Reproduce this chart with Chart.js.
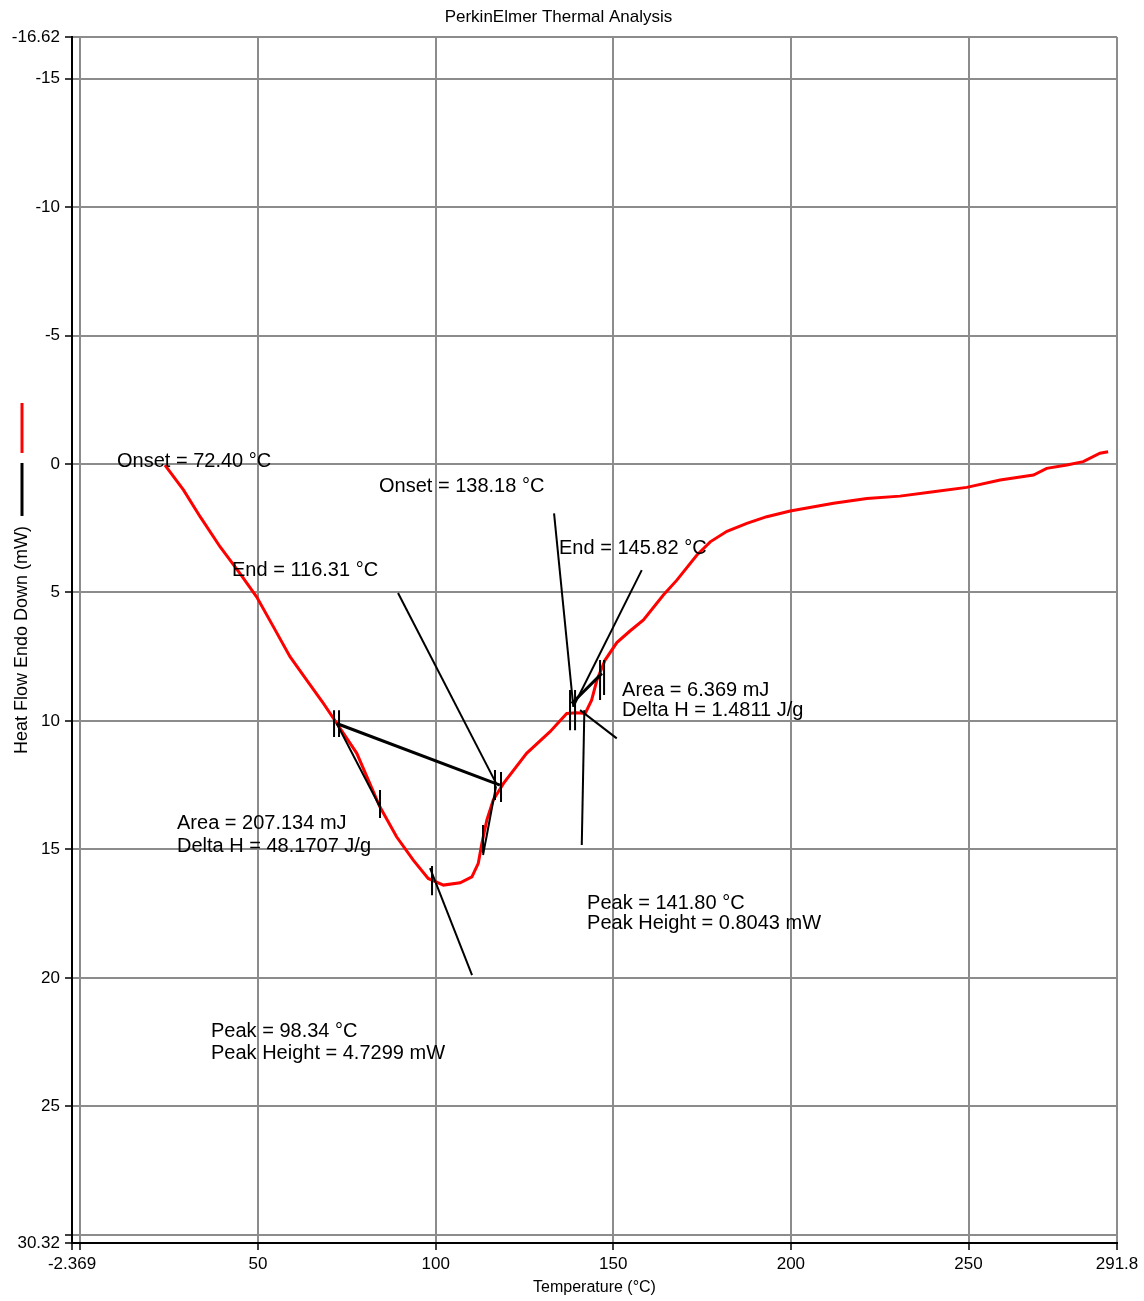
<!DOCTYPE html>
<html>
<head>
<meta charset="utf-8">
<title>PerkinElmer Thermal Analysis</title>
<script src="https://cdn.jsdelivr.net/npm/chart.js@4.4.1/dist/chart.umd.min.js"></script>
<style>
  html, body { margin: 0; padding: 0; background: #fff; }
  #wrap { width: 1144px; height: 1301px; }
</style>
</head>
<body>
<div id="wrap"><canvas id="dsc"></canvas></div>
<script>
// DSC trace (temperature in °C, heat flow in mW, endo down)
const temps = [23.8, 29.0, 33.7, 39.3, 44.9, 49.6, 54.3, 59.0, 63.7, 68.4,
  72.2, 77.8, 84.3, 89.0, 93.7, 97.9, 102.2, 106.9, 110.2, 112.0,
  113.0, 114.4, 116.2, 119.1, 125.6, 132.2, 136.9, 139.7, 142.1, 143.9,
  145.4, 147.7, 151.0, 154.7, 158.5, 164.1, 167.9, 173.5, 177.3, 182.0,
  187.6, 193.2, 199.8, 212.0, 221.4, 230.7, 240.1, 249.5, 258.9, 268.3,
  272.0, 277.7, 282.3, 287.0, 289.3];
const heatFlow = [0.04, 1.01, 2.05, 3.22, 4.26, 5.17, 6.33, 7.50, 8.41, 9.32,
  10.10, 11.26, 13.34, 14.51, 15.42, 16.13, 16.39, 16.30, 16.07, 15.54,
  14.77, 13.86, 13.08, 12.43, 11.26, 10.42, 9.71, 9.68, 9.71, 9.19,
  8.41, 7.63, 6.95, 6.50, 6.07, 5.10, 4.52, 3.55, 3.03, 2.62,
  2.31, 2.05, 1.83, 1.53, 1.34, 1.25, 1.08, 0.91, 0.62, 0.43,
  0.17, 0.04, -0.09, -0.42, -0.48];

// axis ticks (grid at x = 0 and y = 30 carries no label)
const xTicks = [-2.369, 0, 50, 100, 150, 200, 250, 291.8];
const yTicks = [-16.62, -15, -10, -5, 0, 5, 10, 15, 20, 25, 30, 30.32];
const xUnlabelled = [0];
const yUnlabelled = [30];

// analysis construction lines: [x1, y1, x2, y2] in data units
const baselines = [
  [72.15, 10.10, 118.1, 12.50],
  [138.3, 9.32, 146.8, 8.15]
];
const tangents = [
  [89.41, 5.02, 117.0, 12.42],
  [72.15, 10.10, 84.34, 13.35],
  [98.42, 15.73, 110.24, 19.89],
  [113.34, 15.22, 117.0, 12.54],
  [133.33, 1.92, 138.76, 9.45],
  [158.02, 4.13, 138.76, 9.45],
  [140.65, 9.58, 150.98, 10.68],
  [141.86, 9.58, 141.13, 14.83]
];
const limitMarks = [
  [71.4, 9.58, 71.4, 10.63],
  [72.8, 9.58, 72.8, 10.63],
  [84.34, 12.69, 84.34, 13.78],
  [98.98, 15.65, 98.98, 16.78],
  [113.34, 14.05, 113.34, 15.14],
  [116.7, 11.91, 116.7, 13.08],
  [118.4, 11.99, 118.4, 13.16],
  [137.83, 8.80, 137.83, 10.36],
  [139.24, 8.80, 139.24, 10.36],
  [146.28, 7.63, 146.28, 9.19],
  [147.41, 7.63, 147.41, 8.99]
];

// result labels (left edge x, middle y, data units)
const noteText = [
  'Onset = 72.40 °C', 'Onset = 138.18 °C', 'End = 145.82 °C', 'End = 116.31 °C',
  'Area = 6.369 mJ', 'Delta H = 1.4811 J/g',
  'Area = 207.134 mJ', 'Delta H = 48.1707 J/g',
  'Peak = 141.80 °C', 'Peak Height = 0.8043 mW',
  'Peak = 98.34 °C', 'Peak Height = 4.7299 mW'
];
const noteX = [10.30, 84.06, 134.73, 42.68, 152.47, 152.47, 27.19, 27.19, 142.62, 142.62, 36.76, 36.76];
const noteY = [-0.08, 0.86, 3.27, 4.13, 8.80, 9.58, 14.01, 14.87, 17.09, 17.87, 22.07, 22.93];

const FONT = '"Liberation Sans", Arial, sans-serif';

function segSet(seg, width) {
  return {
    data: [{ x: seg[0], y: seg[1] }, { x: seg[2], y: seg[3] }],
    borderColor: '#000',
    borderWidth: width,
    pointRadius: 0,
    order: 1
  };
}

const notesPlugin = {
  id: 'notes',
  afterDatasetsDraw(chart) {
    const { ctx, scales: { x, y } } = chart;
    ctx.save();
    ctx.font = '20px ' + FONT;
    ctx.fillStyle = '#000';
    ctx.textAlign = 'left';
    ctx.textBaseline = 'middle';
    noteText.forEach((t, i) => {
      ctx.fillText(t, x.getPixelForValue(noteX[i]), y.getPixelForValue(noteY[i]));
    });
    ctx.restore();
  },
  afterDraw(chart) {
    // little line keys above the y axis title
    const { ctx, chartArea } = chart;
    ctx.save();
    ctx.font = '18px ' + FONT;
    const half = ctx.measureText('Heat Flow Endo Down (mW)').width / 2;
    const top = (chartArea.top + chartArea.bottom) / 2 - half;
    ctx.lineWidth = 3;
    ctx.strokeStyle = '#ff0000';
    ctx.beginPath(); ctx.moveTo(22, top - 123); ctx.lineTo(22, top - 73); ctx.stroke();
    ctx.strokeStyle = '#000';
    ctx.beginPath(); ctx.moveTo(22, top - 63); ctx.lineTo(22, top - 10); ctx.stroke();
    ctx.restore();
  }
};

const datasets = [{
  data: temps.map((t, i) => ({ x: t, y: heatFlow[i] })),
  borderColor: '#ff0000',
  borderWidth: 3,
  pointRadius: 0,
  tension: 0,
  order: 2
}];
baselines.forEach(s => datasets.push(segSet(s, 3)));
tangents.forEach(s => datasets.push(segSet(s, 2)));
limitMarks.forEach(s => datasets.push(segSet(s, 2)));

const gridOpts = {
  color: '#8c8c8c',
  lineWidth: 2,
  tickColor: '#000',
  tickLength: 7,
  tickWidth: 1.5
};

new Chart(document.getElementById('dsc'), {
  type: 'line',
  data: { datasets },
  options: {
    responsive: true,
    maintainAspectRatio: false,
    animation: false,
    layout: { padding: { right: 27 } },
    plugins: {
      legend: { display: false },
      tooltip: { enabled: false },
      title: {
        display: true,
        text: 'PerkinElmer Thermal Analysis',
        color: '#000',
        font: { family: FONT, size: 17, weight: 'normal' },
        padding: { top: 7, bottom: 9.6 }
      }
    },
    scales: {
      x: {
        type: 'linear',
        min: -2.369,
        max: 291.8,
        afterBuildTicks: s => { s.ticks = xTicks.map(v => ({ value: v })); },
        afterFit: s => { s.height = 58; },
        grid: gridOpts,
        border: { color: '#000', width: 2 },
        ticks: {
          autoSkip: false,
          maxRotation: 0,
          padding: 4,
          color: '#000',
          font: { family: FONT, size: 17 },
          callback: v => xUnlabelled.includes(v) ? '' : String(v)
        },
        title: {
          display: true,
          text: 'Temperature (°C)',
          color: '#000',
          font: { family: FONT, size: 16 },
          padding: { top: 0, bottom: 3.4 }
        }
      },
      y: {
        type: 'linear',
        reverse: true,
        min: -16.62,
        max: 30.32,
        afterBuildTicks: s => { s.ticks = yTicks.map(v => ({ value: v })); },
        afterFit: s => { s.width = 72; },
        grid: gridOpts,
        border: { color: '#000', width: 2 },
        ticks: {
          autoSkip: false,
          padding: 5,
          color: '#000',
          font: { family: FONT, size: 17 },
          callback: v => yUnlabelled.includes(v) ? '' : String(v)
        },
        title: {
          display: true,
          text: 'Heat Flow Endo Down (mW)',
          color: '#000',
          font: { family: FONT, size: 18 },
          padding: { top: 11, bottom: 0 }
        }
      }
    }
  },
  plugins: [notesPlugin]
});
</script>
</body>
</html>
